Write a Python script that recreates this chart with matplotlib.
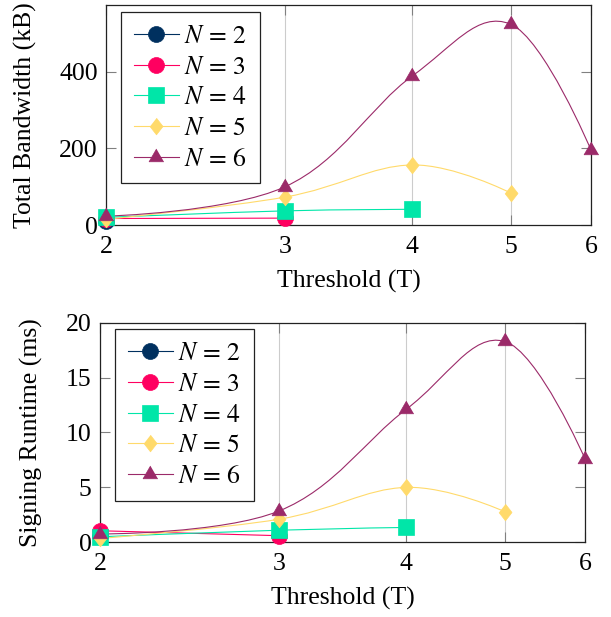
import numpy as np
import matplotlib
matplotlib.use('Agg')
import matplotlib.pyplot as plt
from matplotlib.path import Path
from matplotlib.patches import PathPatch
from matplotlib.lines import Line2D
from matplotlib.ticker import NullLocator

plt.rcParams['font.family'] = 'serif'
plt.rcParams['font.serif'] = ['Liberation Serif', 'DejaVu Serif']
plt.rcParams['mathtext.fontset'] = 'stix'
plt.rcParams['font.size'] = 18.5

# data: threshold T for each group size N
thresholds = [2, 3, 4, 5, 6]
group_sizes = [2, 3, 4, 5, 6]

# total bandwidth (kB)
bw_n2 = [10]
bw_n3 = [17, 18]
bw_n4 = [20, 37, 41]
bw_n5 = [15, 73, 157, 84]
bw_n6 = [23, 100, 389, 525, 196]

# signing runtime (ms)
rt_n2 = [0.55]
rt_n3 = [1.05, 0.6]
rt_n4 = [0.5, 1.1, 1.35]
rt_n5 = [0.35, 2.1, 5.0, 2.8]
rt_n6 = [0.75, 2.85, 12.1, 18.3, 7.6]

colors = ['#00305f', '#ff0060', '#00e6a8', '#ffda6b', '#9b2a69']
diamond = [(0, 1), (0.78, 0), (0, -1), (-0.78, 0)]
triangle = [(0, 1), (-0.866, -0.5), (0.866, -0.5)]
markers = ['o', 'o', 's', diamond, triangle]
msizes = [11.5, 11.5, 11.5, 12, 12.3]

TENSION = 0.55 / 3


def smooth_line(ax, xs, ys, color):
    # tikz-like smooth curve, computed in screen space
    pts = ax.transData.transform(np.column_stack([xs, ys]))
    n = len(pts)
    if n < 2:
        return
    verts = [pts[0]]
    codes = [Path.MOVETO]
    for i in range(n - 1):
        p0, p1 = pts[i], pts[i + 1]
        c1 = p0 if i == 0 else p0 + TENSION * (pts[i + 1] - pts[i - 1])
        c2 = p1 if i == n - 2 else p1 - TENSION * (pts[i + 2] - pts[i])
        verts += [c1, c2, p1]
        codes += [Path.CURVE4] * 3
    verts = ax.transData.inverted().transform(np.array(verts))
    ax.add_patch(PathPatch(Path(verts, codes), fill=False, edgecolor=color,
                           lw=0.8, zorder=2))


def draw_panel(ax, series, yticks, ymax, ylabel, label_x, legend_anchor):
    ax.set_xscale('log')
    ax.set_xlim(2, 6)
    ax.set_ylim(0, ymax)
    ax.set_xticks(thresholds, labels=[str(t) for t in thresholds])
    ax.xaxis.set_minor_locator(NullLocator())
    ax.set_yticks(yticks)
    ax.grid(axis='x', color='#cccccc', lw=0.8)
    ax.set_axisbelow(True)
    ax.tick_params(axis='both', direction='in', length=7.5, width=0.8,
                   color='#808080', left=True, right=True, top=True, bottom=True)
    ax.tick_params(axis='y', pad=6)
    ax.tick_params(axis='x', pad=8)
    for s in ax.spines.values():
        s.set_linewidth(0.9)
        s.set_color('#222222')

    handles = []
    for k, ys in enumerate(series):
        xs = thresholds[:len(ys)]
        smooth_line(ax, xs, ys, colors[k])
        ax.plot(xs, ys, ls='none', marker=markers[k], ms=msizes[k],
                color=colors[k], mec=colors[k], mew=0.5, clip_on=False, zorder=3 + k)
        handles.append(Line2D([], [], color=colors[k], lw=0.8, marker=markers[k],
                              ms=msizes[k], mec=colors[k], mew=0.5,
                              label=r'$N\,=\,%d$' % group_sizes[k]))

    ax.set_ylabel(ylabel)
    ax.yaxis.set_label_coords(label_x, 0.5)
    ax.set_xlabel('Threshold (T)')
    ax.xaxis.set_label_coords(0.5, -0.205)

    leg = ax.legend(handles=handles, loc='upper left', bbox_to_anchor=legend_anchor,
                    borderaxespad=0, fancybox=False, framealpha=1,
                    edgecolor='#222222', handlelength=1.75, handletextpad=0.2,
                    borderpad=0.5, labelspacing=0.3)
    leg.get_frame().set_linewidth(0.9)


fig = plt.figure(figsize=(6.11, 6.17), dpi=100)
ax1 = fig.add_axes([0.1735, 0.6353, 0.7938, 0.3566])
ax2 = fig.add_axes([0.1637, 0.1211, 0.7938, 0.3559])

draw_panel(ax1, [bw_n2, bw_n3, bw_n4, bw_n5, bw_n6], [0, 200, 400], 575,
           'Total Bandwidth (kB)', -0.142, (0.031, 0.968))
draw_panel(ax2, [rt_n2, rt_n3, rt_n4, rt_n5, rt_n6], [0, 5, 10, 15, 20], 20,
           'Signing Runtime (ms)', -0.118, (0.031, 0.970))

fig.savefig('out.png', dpi=100)
